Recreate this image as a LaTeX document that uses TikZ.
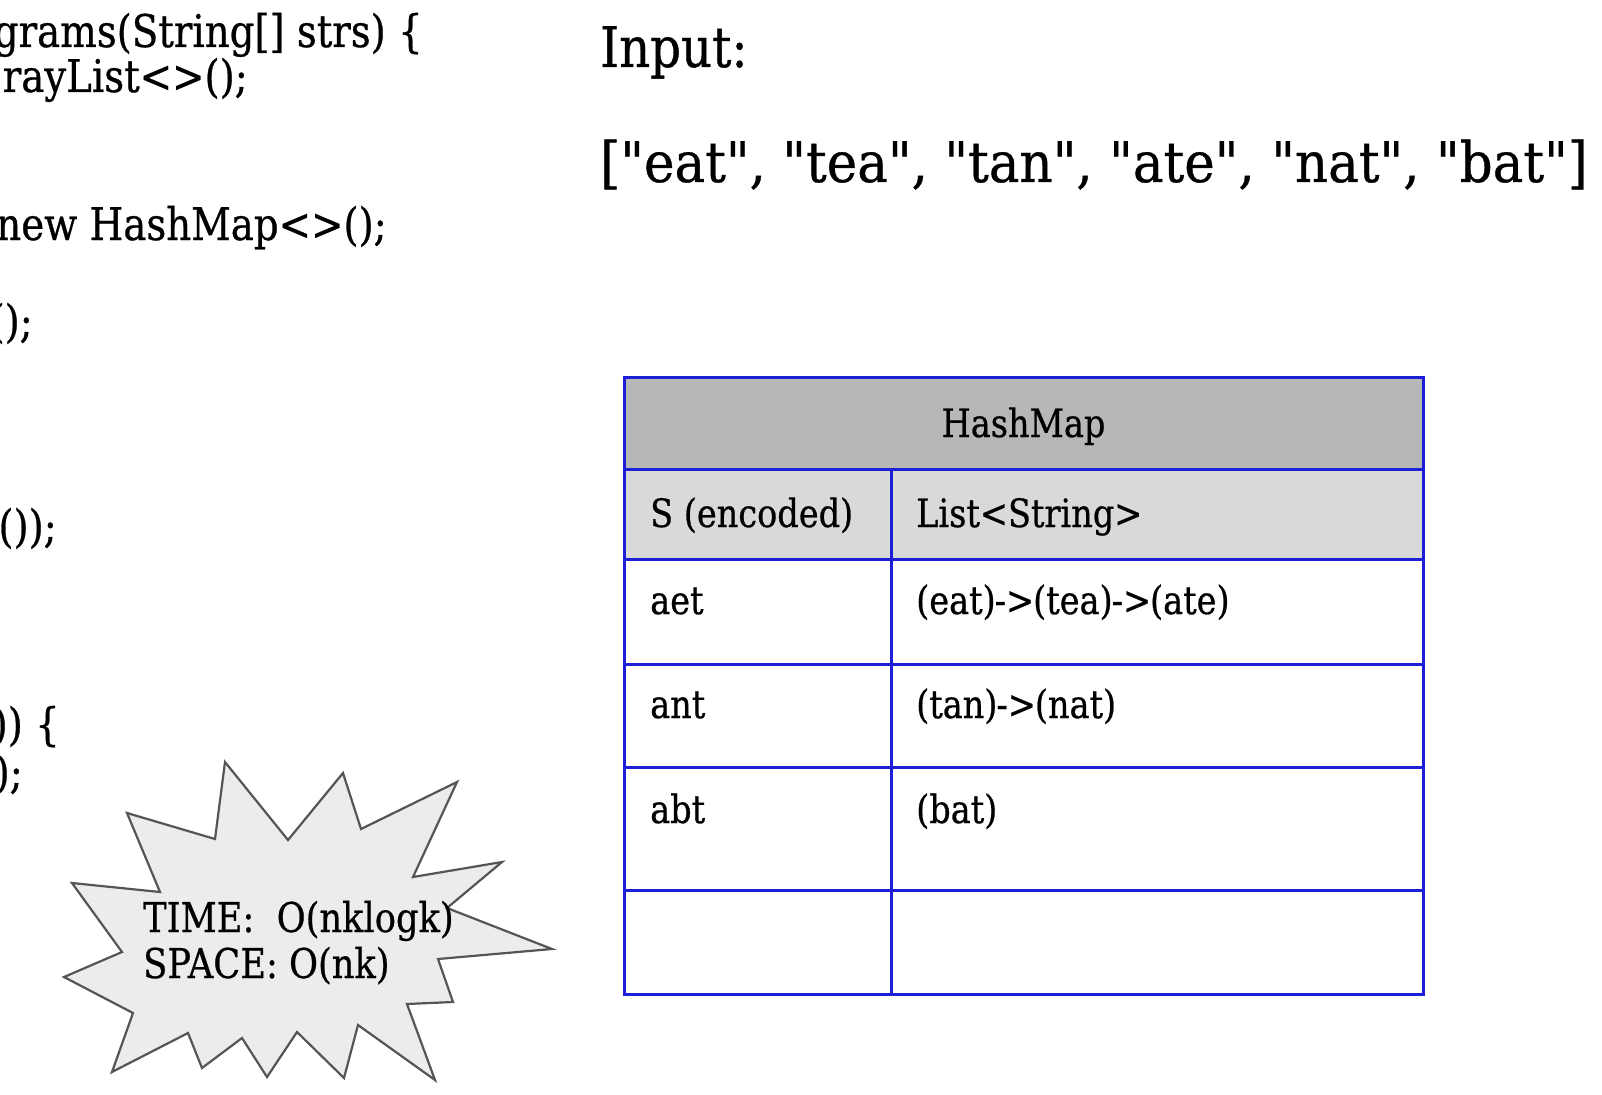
\documentclass[tikz,border=0pt]{standalone}
\usepackage{fontspec}
\setmainfont[FakeStretch=0.86,FakeBold=0.6]{DejaVu Serif}
\newfontfamily\arrfont[FakeStretch=0.92,FakeBold=0.6,Ligatures=TeXOff]{DejaVu Serif}
\definecolor{tblue}{RGB}{30,30,215}
\definecolor{hdrgray}{RGB}{183,183,183}
\definecolor{subgray}{RGB}{217,217,217}
\definecolor{burstfill}{RGB}{236,236,236}
\definecolor{burstline}{RGB}{85,85,85}
\tikzset{
  codetext/.style={font=\fontsize{45}{54}\selectfont, anchor=base east, inner sep=0pt},
  bigtext/.style={font=\fontsize{56}{66}\selectfont, anchor=base west, inner sep=0pt},
  tabtext/.style={font=\fontsize{39}{47}\selectfont, anchor=base west, inner sep=0pt},
  tabline/.style={draw=tblue, line width=3pt},
  burst/.style={fill=burstfill, draw=burstline, line width=2.2pt, line join=miter},
  bursttext/.style={font=\fontsize{41}{48}\selectfont, anchor=base west, inner sep=0pt}
}
\begin{document}
\begin{tikzpicture}[x=1pt,y=-1pt]
\useasboundingbox[fill=white] (0,0) rectangle (1602,1094);

% code fragments (clipped at the left edge)
\node[codetext] (c1) at (423,47) {grams(String[] strs) \{};
\node[codetext] (c2) at (248,92) {rayList<>();};
\node[codetext] (c3) at (387,240) {new HashMap<>();};
\node[codetext] (c4) at (33,337) {();};
\node[codetext] (c5) at (57,542) {());};
\node[codetext] (c6) at (60,740) {)) \{};
\node[codetext] (c7) at (23,788) {);};

% input
\node[bigtext] (inp) at (600,67) {Input:};
\node[bigtext, font=\fontsize{56}{66}\arrfont] (arr) at (600,182) {["eat", "tea", "tan", "ate", "nat", "bat"]};

% table fills
\fill[hdrgray] (624,377) rectangle (1423,469);
\fill[subgray] (624,469) rectangle (1423,559);
% table lines
\draw[tabline] (624,377) rectangle (1423,994);
\foreach \yy in {469,559,664,767,890} \draw[tabline] (624,\yy) -- (1423,\yy);
\draw[tabline] (891,469) -- (891,994);

% table text
\node[tabtext, anchor=base] (hm) at (1023.5,437) {HashMap};
\node[tabtext] (s) at (650,527) {S (encoded)};
\node[tabtext] (l) at (916,527) {List<String>};
\node[tabtext] (k1) at (650,614) {aet};
\node[tabtext] (v1) at (916,614) {(eat)\kern-1pt->\kern-1pt(tea)\kern-1pt->\kern-1pt(ate)};
\node[tabtext] (k2) at (650,718) {ant};
\node[tabtext] (v2) at (916,718) {(tan)\kern-1pt->\kern-1pt(nat)};
\node[tabtext] (k3) at (650,823) {abt};
\node[tabtext] (v3) at (916,823) {(bat)};

% starburst
\draw[burst] (225,762) -- (288,840) -- (343,773) -- (361,829) -- (457,782)
  -- (413,877) -- (502,862) -- (447,908) -- (552,949) -- (438,959)
  -- (453,1002) -- (407,1004) -- (435,1080) -- (358,1025) -- (344,1078)
  -- (297,1032) -- (267,1077) -- (242,1038) -- (202,1068) -- (188,1033)
  -- (112,1072) -- (133,1013) -- (64,977) -- (122,952) -- (72,883)
  -- (160,892) -- (127,813) -- (215,839) -- cycle;
\node[bursttext] (t1) at (143,932) {TIME:\ \ O(nklogk)};
\node[bursttext] (t2) at (143,978) {SPACE: O(nk)};
\end{tikzpicture}
\end{document}
